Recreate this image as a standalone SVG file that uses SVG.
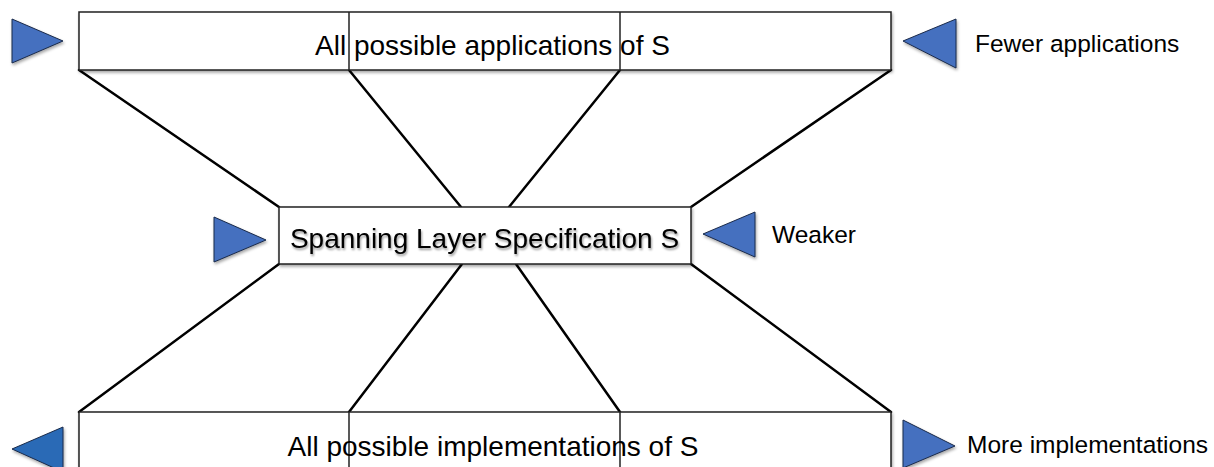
<svg xmlns="http://www.w3.org/2000/svg" width="1214" height="467" viewBox="0 0 1214 467">
<defs>
<filter id="sh" x="-20%" y="-20%" width="140%" height="140%">
<feDropShadow dx="1" dy="2" stdDeviation="1.5" flood-color="#000" flood-opacity="0.35"/>
</filter>
<filter id="tsh" x="-5%" y="-20%" width="110%" height="150%">
<feDropShadow dx="1" dy="2" stdDeviation="1.2" flood-color="#000" flood-opacity="0.4"/>
</filter>
<style>
.box{fill:#fff;stroke:#222;stroke-width:1.5}
.div{stroke:#222;stroke-width:1.5;fill:none}
.ln{stroke:#000;stroke-width:2.5;fill:none;stroke-linecap:round}
.tri{fill:#4470bf;stroke:#1a2a4a;stroke-width:1;stroke-linejoin:round}
.t{font-family:"Liberation Sans",Arial,sans-serif;fill:#000}
.big{font-size:28px}
.lab{font-size:24.5px}
</style>
</defs>
<rect width="1214" height="467" fill="#fff"/>
<g id="connectors">
<line class="ln" x1="79" y1="70" x2="279" y2="207"/>
<line class="ln" x1="349" y1="70" x2="461" y2="207"/>
<line class="ln" x1="620" y1="70" x2="509" y2="207"/>
<line class="ln" x1="891" y1="70" x2="691" y2="207"/>
<line class="ln" x1="279" y1="264" x2="79" y2="412"/>
<line class="ln" x1="462" y1="264" x2="349" y2="412"/>
<line class="ln" x1="516" y1="264" x2="620" y2="412"/>
<line class="ln" x1="691" y1="264" x2="891" y2="412"/>
</g>
<g id="top-box">
<rect class="box" x="79" y="12" width="812" height="58" filter="url(#sh)"/>
<line class="div" x1="349" y1="12" x2="349" y2="70"/>
<line class="div" x1="620" y1="12" x2="620" y2="70"/>
<text class="t big" x="492.5" y="55" text-anchor="middle">All possible applications of S</text>
</g>
<g id="middle-box">
<rect class="box" x="279" y="207" width="412" height="57" filter="url(#sh)"/>
<text class="t big" x="484.5" y="248" text-anchor="middle" filter="url(#tsh)">Spanning Layer Specification S</text>
</g>
<g id="bottom-box">
<rect class="box" x="79" y="412" width="812" height="70" filter="url(#sh)"/>
<line class="div" x1="349" y1="412" x2="349" y2="467"/>
<line class="div" x1="620" y1="412" x2="620" y2="467"/>
<text class="t big" x="493" y="456" text-anchor="middle">All possible implementations of S</text>
</g>
<g id="arrow-top-left"><polygon class="tri" points="12,19 12,63 63,41" filter="url(#sh)"/></g>
<g id="arrow-top-right"><polygon class="tri" points="956,19 956,68 903,41" filter="url(#sh)"/></g>
<g id="label-fewer"><text class="t lab" x="975" y="52">Fewer applications</text></g>
<g id="arrow-mid-left"><polygon class="tri" points="214,217 214,262 266,240" filter="url(#sh)"/></g>
<g id="arrow-mid-right"><polygon class="tri" points="755,212 755,257 703,234" filter="url(#sh)"/></g>
<g id="label-weaker"><text class="t lab" x="772" y="243">Weaker</text></g>
<g id="arrow-bottom-left"><polygon class="tri" points="63,427 63,472 12,449" style="fill:#2a6bb6" filter="url(#sh)"/></g>
<g id="arrow-bottom-right"><polygon class="tri" points="903,420 903,468 955,446" filter="url(#sh)"/></g>
<g id="label-more"><text class="t lab" x="967" y="453">More implementations</text></g>
</svg>
